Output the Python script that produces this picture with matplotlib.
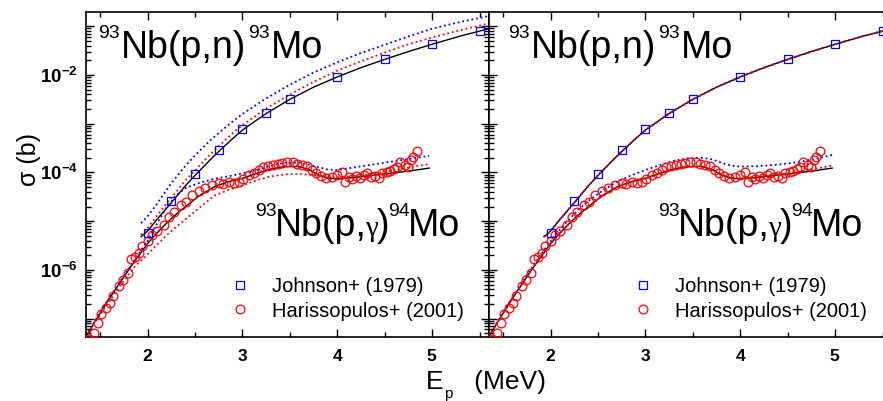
import matplotlib
matplotlib.use('Agg')
import matplotlib.pyplot as plt
import matplotlib.ticker as ticker
from matplotlib.transforms import IdentityTransform
import numpy as np

plt.rcParams['font.family'] = ['Liberation Sans', 'DejaVu Sans']
plt.rcParams['mathtext.fontset'] = 'custom'
plt.rcParams['mathtext.rm'] = 'Liberation Sans'
plt.rcParams['mathtext.bf'] = 'Liberation Sans:bold'

# ---- data (cross sections given as log10 of sigma in barn) ----
# Johnson+ (1979), 93Nb(p,n)93Mo
johnson_E = [2.0, 2.25, 2.5, 2.75, 3.0, 3.25, 3.5, 4.0, 4.5, 5.0, 5.5]
johnson_log = [-5.24, -4.59, -4.03, -3.54, -3.11, -2.78, -2.49, -2.04, -1.67, -1.36, -1.10]

# Harissopulos+ (2001), 93Nb(p,g)94Mo
haris_E = [1.38, 1.43, 1.475, 1.51, 1.56, 1.60, 1.64, 1.70, 1.74, 1.79, 1.82, 1.87, 1.91,
           1.94, 2.00, 2.05, 2.10, 2.17, 2.23, 2.28, 2.35, 2.40, 2.47, 2.54, 2.61, 2.68,
           2.75, 2.80, 2.86, 2.91, 2.96, 3.01, 3.07, 3.12, 3.17, 3.22, 3.27, 3.32, 3.37,
           3.42, 3.47, 3.53, 3.58, 3.63, 3.68, 3.73, 3.78, 3.83, 3.88, 3.94, 4.00, 4.05,
           4.08, 4.12, 4.16, 4.20, 4.24, 4.28, 4.31, 4.36, 4.40, 4.44, 4.47, 4.52, 4.56,
           4.60, 4.63, 4.66, 4.71, 4.75, 4.78, 4.80, 4.84]
haris_log = [-7.42, -7.29, -7.08, -6.90, -6.79, -6.67, -6.53, -6.34, -6.21, -6.06, -5.78, -5.74, -5.66,
             -5.51, -5.40, -5.29, -5.21, -5.08, -4.91, -4.82, -4.67, -4.60, -4.46, -4.39, -4.32, -4.26,
             -4.22, -4.24, -4.19, -4.21, -4.19, -4.14, -4.05, -4.02, -3.95, -3.89, -3.86, -3.84, -3.82,
             -3.80, -3.79, -3.79, -3.82, -3.84, -3.87, -3.95, -4.02, -4.07, -4.12, -4.10, -4.06, -4.00,
             -4.19, -4.10, -4.13, -4.08, -4.12, -4.06, -4.02, -4.09, -4.07, -4.11, -4.02, -4.00, -3.98,
             -3.93, -3.88, -3.78, -3.85, -3.89, -3.75, -3.69, -3.56]

# (p,n) calculations
pn_E = [1.93, 2.0, 2.1, 2.25, 2.4, 2.5, 2.65, 2.75, 2.9, 3.0, 3.25, 3.5, 3.75, 4.0,
        4.25, 4.5, 4.75, 5.0, 5.3, 5.6]
pn_black = [-5.32, -5.20, -4.96, -4.62, -4.27, -4.06, -3.76, -3.57, -3.30, -3.13, -2.79,
            -2.50, -2.25, -2.04, -1.85, -1.68, -1.52, -1.37, -1.20, -1.05]
pn_blue_left = [-5.04, -4.90, -4.64, -4.22, -3.86, -3.65, -3.36, -3.19, -2.95, -2.80, -2.48,
                -2.20, -1.95, -1.74, -1.55, -1.38, -1.21, -1.05, -0.91, -0.79]
pn_red_left = [-5.28, -5.14, -4.88, -4.52, -4.16, -3.96, -3.65, -3.46, -3.19, -3.03, -2.69,
               -2.40, -2.14, -1.91, -1.72, -1.54, -1.37, -1.23, -1.08, -0.94]

# (p,g) calculations
pg_E = [1.35, 1.45, 1.55, 1.65, 1.75, 1.87, 2.0, 2.1, 2.2, 2.3, 2.4, 2.55, 2.7, 2.85,
        3.0, 3.15, 3.3, 3.45, 3.6, 3.7, 3.8, 3.9, 4.0, 4.2, 4.4, 4.6, 4.8, 4.97]
pg_black = [-7.37, -7.04, -6.73, -6.43, -6.14, -5.80, -5.46, -5.24, -5.04, -4.86, -4.70,
            -4.47, -4.30, -4.19, -4.12, -4.02, -3.93, -3.88, -3.88, -3.94, -4.05, -4.12,
            -4.13, -4.10, -4.05, -4.01, -3.96, -3.91]
pg_blue_left = [-7.36, -7.03, -6.72, -6.42, -6.12, -5.78, -5.40, -5.05, -4.72, -4.47, -4.32,
                -4.21, -4.13, -4.08, -4.02, -3.95, -3.86, -3.80, -3.80, -3.84, -3.89, -3.94,
                -3.95, -3.89, -3.83, -3.77, -3.71, -3.66]
pg_red_left = [-7.38, -7.07, -6.77, -6.49, -6.22, -5.92, -5.68, -5.48, -5.29, -5.12, -4.96,
               -4.72, -4.48, -4.36, -4.27, -4.16, -4.08, -4.04, -4.03, -4.05, -4.07, -4.09,
               -4.10, -4.07, -4.02, -3.96, -3.88, -3.83]
pg_blue_right = [-7.36, -7.03, -6.71, -6.41, -6.11, -5.76, -5.41, -5.17, -4.95, -4.75, -4.58,
                 -4.37, -4.19, -4.06, -3.95, -3.85, -3.76, -3.71, -3.70, -3.73, -3.80, -3.86,
                 -3.88, -3.87, -3.84, -3.79, -3.72, -3.64]
pg_red_right = [-7.37, -7.04, -6.73, -6.43, -6.14, -5.80, -5.46, -5.24, -5.04, -4.86, -4.70,
                -4.47, -4.30, -4.19, -4.12, -4.02, -3.93, -3.88, -3.88, -3.94, -4.04, -4.11,
                -4.12, -4.08, -4.04, -3.99, -3.92, -3.86]


def sig(v):
    return 10.0 ** np.asarray(v)


W, H = 883, 401
fig = plt.figure(figsize=(W / 100, H / 100), dpi=100)


def px_axes(x0, y0, w, h):
    return fig.add_axes([x0 / W, 1 - (y0 + h) / H, w / W, h / H])


ax_l = px_axes(86, 12, 403, 325)
ax_r = px_axes(489, 12, 403, 325)

dot = (0, (1, 1.6))
curves = {
    ax_l: (pn_blue_left, pn_red_left, pg_blue_left, pg_red_left),
    ax_r: (pn_black, pn_black, pg_blue_right, pg_red_right),
}

for ax in (ax_l, ax_r):
    pn_b, pn_r, pg_b, pg_r = curves[ax]
    ax.plot(pn_E, sig(pn_black), color='black', lw=1.0, zorder=2)
    ax.plot(pg_E, sig(pg_black), color='black', lw=1.0, zorder=2)
    ax.plot(pn_E, sig(pn_b), color='blue', lw=1.3, ls=dot, zorder=3)
    ax.plot(pn_E, sig(pn_r), color='red', lw=1.3, ls=dot, zorder=3)
    ax.plot(pg_E, sig(pg_b), color='blue', lw=1.3, ls=dot, zorder=3)
    ax.plot(pg_E, sig(pg_r), color='red', lw=1.3, ls=dot, zorder=3)
    sq, = ax.plot(johnson_E, sig(johnson_log), ls='none', marker='s', ms=5.5,
                  mfc='none', mec='blue', mew=0.9, zorder=5)
    ci, = ax.plot(haris_E, sig(haris_log), ls='none', marker='o', ms=6.3,
                  mfc='none', mec='red', mew=0.9, zorder=4)

    ax.set_yscale('log')
    ax.set_xlim(1.35, 5.6)
    ax.set_ylim(4.2e-8, 0.196)
    ax.xaxis.set_major_locator(ticker.MultipleLocator(1))
    ax.xaxis.set_minor_locator(ticker.MultipleLocator(0.5))
    ax.yaxis.set_major_locator(ticker.LogLocator(base=10, numticks=20))
    ax.yaxis.set_minor_locator(ticker.LogLocator(base=10, subs=np.arange(2, 10), numticks=20))
    ax.xaxis.set_major_formatter(ticker.FuncFormatter(lambda v, p: r'$\mathbf{%d}$' % round(v)))
    ax.yaxis.set_major_formatter(ticker.FuncFormatter(
        lambda v, p: r'$\mathbf{10^{%d}}$' % round(np.log10(v)) if round(np.log10(v)) % 2 == 0 else ''))
    ax.yaxis.set_minor_formatter(ticker.NullFormatter())
    ax.tick_params(which='both', direction='in', top=True, right=True, width=1.0)
    ax.tick_params(which='major', length=6)
    ax.tick_params(which='minor', length=3.5)
    ax.tick_params(axis='x', labelsize=12.5, pad=8)
    ax.tick_params(axis='y', labelsize=13.5, pad=6)
    for s in ax.spines.values():
        s.set_linewidth(1.2)

    ax.legend([sq, ci], ['Johnson+ (1979)', 'Harissopulos+ (2001)'], loc='upper left',
              bbox_to_anchor=(0.36, 0.185), frameon=False, fontsize=14.5, numpoints=1,
              handlelength=0.9, handletextpad=1.15, labelspacing=0.28,
              borderpad=0, borderaxespad=0)

ax_r.tick_params(axis='y', labelleft=False)

# y label
fig.text(29 / W, 1 - 160 / H, 'σ (b)', rotation=90, ha='center', va='center', fontsize=18)

# reaction labels and x label, built piece by piece (pixel coords, y from top)
renderer = fig.canvas.get_renderer()


def put_pieces(x, y_base, pieces, gap=1.5):
    for s, size, rise, fam in pieces:
        t = fig.text(x, H - y_base + rise, s, fontsize=size, family=fam,
                     transform=IdentityTransform(), ha='left', va='baseline')
        x += t.get_window_extent(renderer).width + gap


sans = ['Liberation Sans', 'DejaVu Sans']
serif = ['Liberation Serif', 'DejaVu Serif']
pn_label = [('93', 14, 20, sans), ('Nb(p,n)', 27, 0, sans), ('93', 14, 20, sans), ('Mo', 27, 0, sans)]
pg_label = [('93', 14, 20, sans), ('Nb(p,', 27, 0, sans), ('γ', 21, 0, serif), (')', 27, 0, sans),
            ('94', 14, 20, sans), ('Mo', 27, 0, sans)]

put_pieces(98, 58, pn_label)
put_pieces(508, 58, pn_label)
put_pieces(255, 236, pg_label, gap=-1.5)
put_pieces(658, 236, pg_label, gap=-1.5)

put_pieces(426, 389, [('E', 19, 0, sans), ('p', 11, -9, sans), ('   (MeV)', 19, 0, sans)], gap=0)

fig.savefig('out.png', dpi=100)
